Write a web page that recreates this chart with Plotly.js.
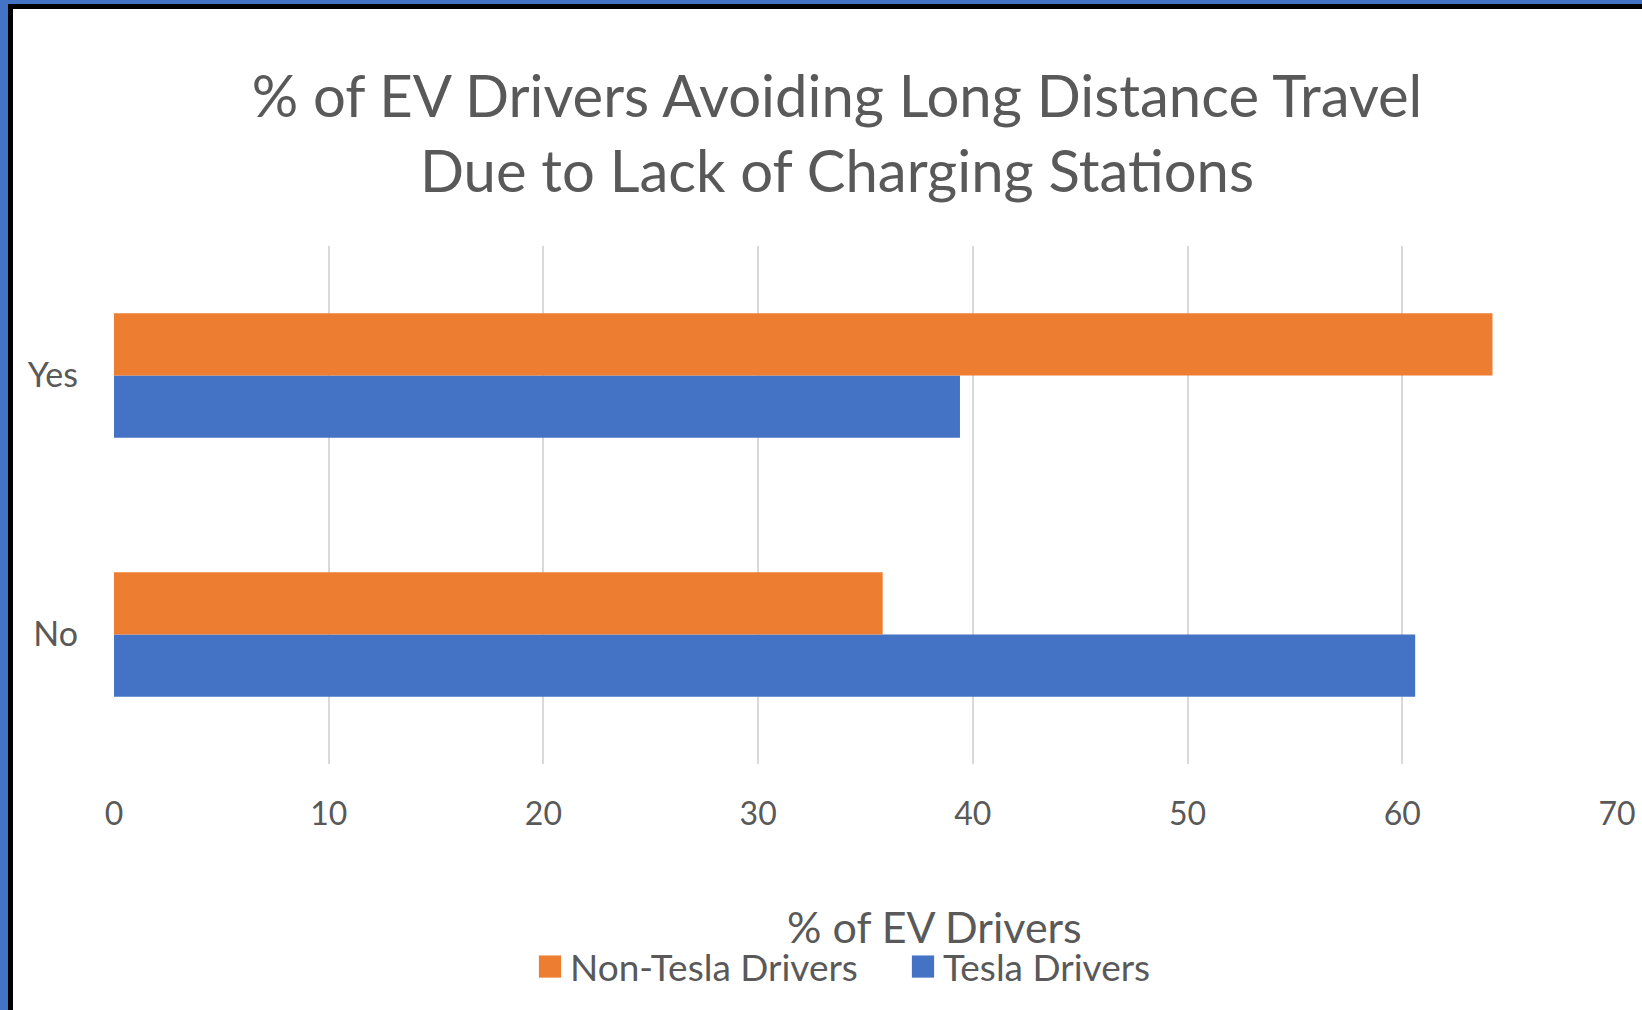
<!DOCTYPE html>
<html>
<head>
<meta charset="utf-8">
<script src="https://cdn.plot.ly/plotly-3.0.1.min.js"></script>
<style>
  html, body { margin: 0; padding: 0; width: 1642px; height: 1010px; overflow: hidden; background: #4472C4; }
  #frame { position: absolute; left: 8px; top: 4px; width: 1634px; height: 1006px; box-sizing: border-box;
           border-left: 5px solid #000; border-top: 5px solid #000; background: #fff; }
  #chart { position: absolute; left: 0; top: 0; width: 1642px; height: 1010px; }
</style>
</head>
<body>
<div id="frame"></div>
<div id="chart"></div>
<script>
// Data
const categories = ['No', 'Yes'];
const seriesNames = ['Non-Tesla Drivers', 'Tesla Drivers'];
const nonTeslaValues = [35.8, 64.2];
const teslaValues = [60.6, 39.4];
const xTickValues = [0, 10, 20, 30, 40, 50, 60, 70];

const FONT = 'Lato, "Open Sans", sans-serif';
const GREY = '#595959';

const W = 1642, H = 1010;
const margin = { l: 114, r: 25, t: 246, b: 246 };
const plotW = W - margin.l - margin.r;
const plotH = H - margin.t - margin.b;
const px2x = px => (px - margin.l) / plotW;
const py2y = py => (H - margin.b - py) / plotH;

const traces = [
  {
    type: 'bar', orientation: 'h', name: seriesNames[1],
    y: categories, x: teslaValues,
    marker: { color: '#4472C4' }, legendrank: 2, hoverinfo: 'x+name'
  },
  {
    type: 'bar', orientation: 'h', name: seriesNames[0],
    y: categories, x: nonTeslaValues,
    marker: { color: '#ED7D31' }, legendrank: 1, hoverinfo: 'x+name'
  }
];

const layout = {
  width: W, height: H,
  margin: margin,
  paper_bgcolor: 'rgba(0,0,0,0)',
  plot_bgcolor: 'rgba(0,0,0,0)',
  font: { family: FONT, color: GREY },
  title: {
    text: '% of EV Drivers Avoiding Long Distance Travel<br>Due to Lack of Charging Stations',
    font: { family: FONT, size: 58, color: GREY },
    x: 837 / W, xref: 'container', xanchor: 'center',
    y: 1 - 117 / H, yref: 'container', yanchor: 'top'
  },
  barmode: 'group',
  bargap: 0.52,
  bargroupgap: 0,
  xaxis: {
    range: [0, 70],
    tickvals: xTickValues,
    showgrid: true, gridcolor: '#d9d9d9', gridwidth: 2,
    zeroline: false, showline: false, ticks: '',
    tickfont: { family: FONT, size: 32, color: GREY },
    ticklabelstandoff: 28,
    fixedrange: true
  },
  yaxis: {
    type: 'category',
    categoryorder: 'array', categoryarray: categories,
    showgrid: false, zeroline: false, showline: false, ticks: '',
    tickfont: { family: FONT, size: 34, color: GREY },
    ticklabelstandoff: 35,
    fixedrange: true
  },
  annotations: [
    {
      text: '% of EV Drivers', showarrow: false,
      xref: 'paper', yref: 'paper',
      x: px2x(934), y: py2y(926), xanchor: 'center', yanchor: 'middle',
      font: { family: FONT, size: 43, color: GREY }
    }
  ],
  showlegend: true,
  legend: {
    orientation: 'h',
    x: px2x(530), xanchor: 'left',
    y: py2y(967), yanchor: 'middle',
    font: { family: FONT, size: 37, color: GREY },
    bgcolor: 'rgba(0,0,0,0)',
    entrywidth: 328,
    traceorder: 'normal'
  }
};

Plotly.newPlot('chart', traces, layout, { displayModeBar: false, staticPlot: true }).then(() => {
  document.querySelectorAll('#chart .legend .legendpoints path').forEach(p => {
    const t = p.getAttribute('transform') || '';
    p.setAttribute('transform', t + ' scale(1.85)');
  });
});
</script>
</body>
</html>
